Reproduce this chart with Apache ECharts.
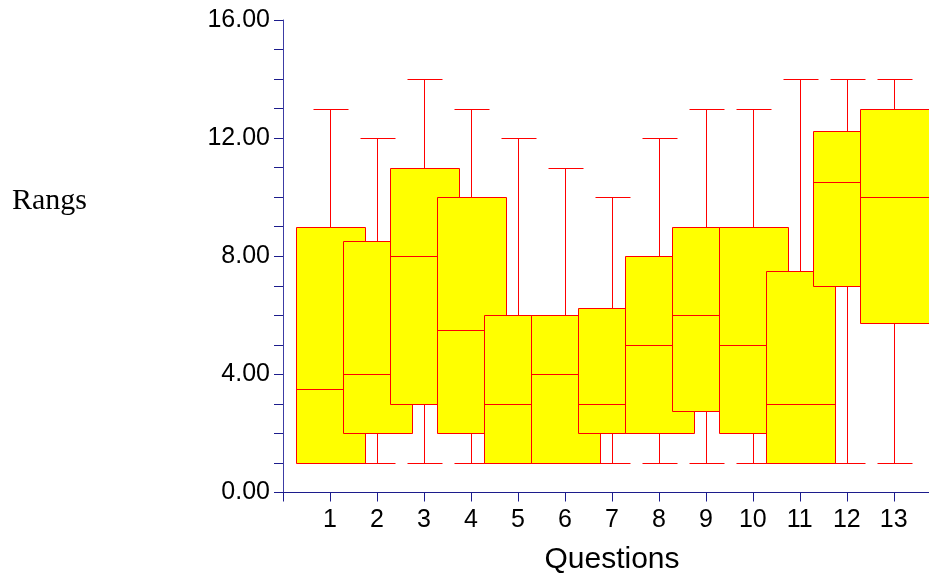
<!DOCTYPE html>
<html>
<head>
<meta charset="utf-8">
<script src="https://cdn.jsdelivr.net/npm/echarts@6/dist/echarts.min.js"></script>
<style>
  html, body { margin: 0; padding: 0; background: #fff; }
  #chart { width: 929px; height: 576px; }
</style>
</head>
<body>
<div id="chart"></div>
<script>
// Box plot values per question
const questions = [1, 2, 3, 4, 5, 6, 7, 8, 9, 10, 11, 12, 13];
const mins    = [1, 1, 1, 1, 1, 1, 1, 1, 1, 1, 1, 1, 1];
const q1s     = [1, 2, 3, 2, 1, 1, 2, 2, 2.75, 2, 1, 7, 5.75];
const medians = [3.5, 4, 8, 5.5, 3, 4, 3, 5, 6, 5, 3, 10.5, 10];
const q3s     = [9, 8.5, 11, 10, 6, 6, 6.25, 8, 9, 9, 7.5, 12.25, 13];
const maxs    = [13, 12, 14, 13, 12, 11, 10, 12, 13, 13, 14, 14, 14];
const yTicks  = [0, 4, 8, 12, 16];

document.addEventListener('DOMContentLoaded', function() {
    const chart = echarts.init(document.getElementById('chart'), null, { renderer: 'canvas' });

    const data = questions.map((q, i) => [q, mins[i], q1s[i], medians[i], q3s[i], maxs[i]]);

    const BOX_SCALE = 1.48;   // box width relative to one category step
    const stroke = { stroke: '#ff0000', lineWidth: 1, fill: null };

    function px(v) { return Math.round(v) + 0.5; }

    function renderBox(params, api) {
        const x = api.value(0);
        const step = api.size([1, 0])[0];
        const half = step * BOX_SCALE / 2;
        const capHalf = half / 2;
        const yMin = px(api.coord([x, api.value(1)])[1]);
        const yQ1 = px(api.coord([x, api.value(2)])[1]);
        const yMed = px(api.coord([x, api.value(3)])[1]);
        const yQ3 = px(api.coord([x, api.value(4)])[1]);
        const yMax = px(api.coord([x, api.value(5)])[1]);
        const cx = px(api.coord([x, 0])[0]);
        const left = px(cx - half);
        const right = px(cx + half);

        return {
            type: 'group',
            children: [
                { type: 'line', shape: { x1: cx, y1: yQ3, x2: cx, y2: yMax }, style: stroke },
                { type: 'line', shape: { x1: px(cx - capHalf), y1: yMax, x2: px(cx + capHalf), y2: yMax }, style: stroke },
                { type: 'line', shape: { x1: cx, y1: yQ1, x2: cx, y2: yMin }, style: stroke },
                { type: 'line', shape: { x1: px(cx - capHalf), y1: yMin, x2: px(cx + capHalf), y2: yMin }, style: stroke },
                {
                    type: 'rect',
                    shape: { x: left, y: yQ3, width: right - left, height: yQ1 - yQ3 },
                    style: { fill: '#ffff00', stroke: '#ff0000', lineWidth: 1 }
                },
                { type: 'line', shape: { x1: left, y1: yMed, x2: right, y2: yMed }, style: stroke }
            ]
        };
    }

    const option = {
        animation: false,
        backgroundColor: '#ffffff',
        grid: {
            left: 283,
            right: 0,
            top: 20,
            bottom: 83.5,
            containLabel: false,
            outerBoundsMode: 'none'
        },
        graphic: [{
            type: 'text',
            left: 12,
            top: 186,
            style: {
                text: 'Rangs',
                font: '30px "Liberation Serif", "Times New Roman", serif',
                fill: '#000'
            }
        }],
        xAxis: {
            type: 'value',
            min: 0,
            max: 13.75,
            name: 'Questions',
            nameLocation: 'middle',
            nameGap: 52,
            nameTextStyle: { fontFamily: 'Liberation Sans', fontSize: 30, color: '#000', padding: [0, 0, 0, 12] },
            splitLine: { show: false },
            axisLine: { show: true, onZero: false, lineStyle: { color: '#1c1c8c', width: 1 } },
            axisTick: { show: true, length: 9, customValues: [0].concat(questions), lineStyle: { color: '#1c1c8c' } },
            axisLabel: {
                customValues: questions,
                margin: 15,
                fontFamily: 'Liberation Sans',
                fontSize: 25,
                color: '#000'
            }
        },
        yAxis: {
            type: 'value',
            min: 0,
            max: 16,
            interval: 4,
            splitLine: { show: false },
            axisLine: { show: true, lineStyle: { color: '#3c3ca4', width: 1 } },
            axisTick: { show: true, length: 9, customValues: yTicks, lineStyle: { color: '#1c1c8c' } },
            minorTick: { show: true, splitNumber: 4, length: 9, lineStyle: { color: '#1c1c8c' } },
            axisLabel: {
                margin: 13,
                fontFamily: 'Liberation Sans',
                fontSize: 25,
                color: '#000',
                formatter: function(v) { return v.toFixed(2); }
            }
        },
        series: [{
            type: 'custom',
            renderItem: renderBox,
            clip: false,
            encode: { x: 0, y: [1, 2, 3, 4, 5] },
            data: data
        }]
    };

    chart.setOption(option);
});
</script>
</body>
</html>
